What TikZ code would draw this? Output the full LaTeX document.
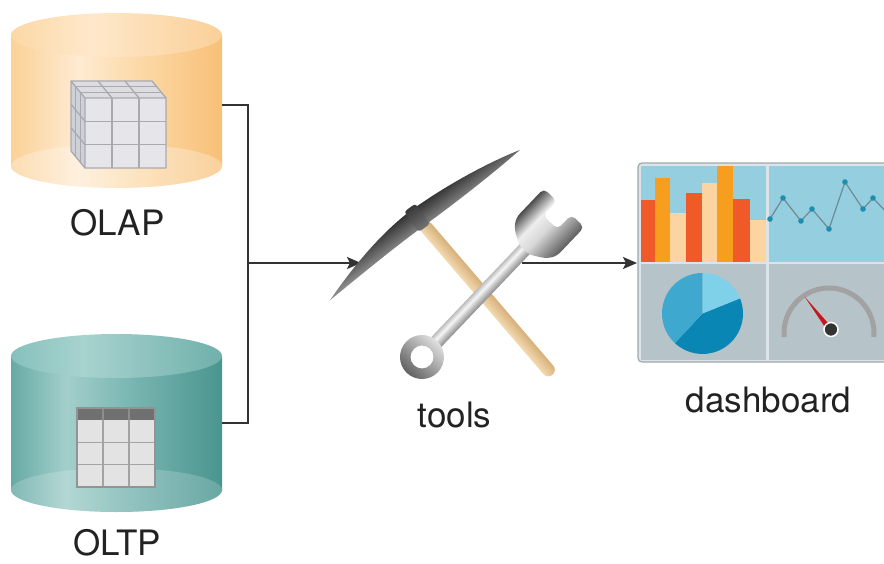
\documentclass[tikz,border=0pt]{standalone}
\usepackage{fontspec}
\setmainfont{TeX Gyre Heros}
\usetikzlibrary{arrows.meta}

% palette
\definecolor{olapL}{HTML}{FBD196}
\definecolor{olapH}{HTML}{FEEBD3}
\definecolor{olapM}{HTML}{FCDDB0}
\definecolor{olapR}{HTML}{F8C077}
\definecolor{olapTL}{HTML}{FCD8A6}
\definecolor{olapTH}{HTML}{FEE8CB}
\definecolor{olapTR}{HTML}{FAD098}
\definecolor{oltpL}{HTML}{67AAA5}
\definecolor{oltpH}{HTML}{A3CFCB}
\definecolor{oltpM}{HTML}{7DB8B4}
\definecolor{oltpR}{HTML}{4A958F}
\definecolor{oltpTL}{HTML}{86C0BC}
\definecolor{oltpTH}{HTML}{A8D3CF}
\definecolor{oltpTR}{HTML}{70B0AB}
\definecolor{cubeF}{HTML}{E6E6EA}
\definecolor{cubeT}{HTML}{DCDCE1}
\definecolor{cubeS}{HTML}{D0D0D7}
\definecolor{cubeLn}{HTML}{A9A9B1}
\definecolor{tblHead}{HTML}{707070}
\definecolor{tblCell}{HTML}{E3E3E3}
\definecolor{tblLn}{HTML}{A3A3A3}
\definecolor{wire}{HTML}{333333}
\definecolor{ink}{HTML}{222222}
\definecolor{stD}{HTML}{8A8A8A}
\definecolor{stM}{HTML}{C9C9C9}
\definecolor{stW}{HTML}{F6F6F6}
\definecolor{stL}{HTML}{BDBDBD}
\definecolor{hdD}{HTML}{4C4C4C}
\definecolor{hdM}{HTML}{D8D8D8}
\definecolor{hdW}{HTML}{EEEEEE}
\definecolor{hdL}{HTML}{5E5E5E}
\definecolor{woodD}{HTML}{D6AF79}
\definecolor{woodL}{HTML}{F3DAB1}
\definecolor{dashFrame}{HTML}{DDE4E7}
\definecolor{dashEdge}{HTML}{9DA9AD}
\definecolor{panelBlue}{HTML}{94CEDF}
\definecolor{panelGray}{HTML}{B6C3C8}
\definecolor{barRed}{HTML}{EF5A28}
\definecolor{barOrange}{HTML}{F79E1F}
\definecolor{barCream}{HTML}{FBD4A2}
\definecolor{lineGray}{HTML}{6E8A92}
\definecolor{dotBlue}{HTML}{1B8EB1}
\definecolor{pieLight}{HTML}{7FD1EA}
\definecolor{pieMid}{HTML}{3FA8CF}
\definecolor{pieDark}{HTML}{0A86B4}
\definecolor{gaugeArc}{HTML}{A2A2A2}
\definecolor{needle}{HTML}{C8161D}
\definecolor{pivot}{HTML}{333333}

% shadings across the cylinders and along the tool sections
\pgfdeclarehorizontalshading{olapbody}{100bp}{color(0bp)=(olapL); color(25bp)=(olapL); color(41bp)=(olapH); color(52bp)=(olapM); color(75bp)=(olapR); color(100bp)=(olapR)}
\pgfdeclarehorizontalshading{olaptop}{100bp}{color(0bp)=(olapTL); color(25bp)=(olapTL); color(44bp)=(olapTH); color(75bp)=(olapTR); color(100bp)=(olapTR)}
\pgfdeclarehorizontalshading{oltpbody}{100bp}{color(0bp)=(oltpL); color(25bp)=(oltpL); color(38bp)=(oltpH); color(52bp)=(oltpM); color(75bp)=(oltpR); color(100bp)=(oltpR)}
\pgfdeclarehorizontalshading{oltptop}{100bp}{color(0bp)=(oltpTL); color(25bp)=(oltpTL); color(42bp)=(oltpTH); color(75bp)=(oltpTR); color(100bp)=(oltpTR)}
\pgfdeclareverticalshading{steel}{100bp}{color(0bp)=(stD); color(25bp)=(stD); color(45bp)=(stM); color(58bp)=(stW); color(75bp)=(stL); color(100bp)=(stL)}
\pgfdeclareverticalshading{steelhead}{100bp}{color(0bp)=(hdL); color(25bp)=(hdL); color(48bp)=(hdM); color(60bp)=(hdW); color(75bp)=(hdD); color(100bp)=(hdD)}

\tikzset{
  lbl/.style={font=\fontsize{35}{42}\selectfont, text=ink, inner sep=0pt, anchor=base},
  conn/.style={draw=wire, line width=2.2pt},
  arrowconn/.style={conn, -{Stealth[length=14pt, width=12pt, inset=3pt]}},
  cubeline/.style={draw=cubeLn, line width=1.3pt, line join=round},
  tblline/.style={draw=tblLn, line width=1.5pt},
}

\begin{document}
\begin{tikzpicture}[x=1pt, y=-1pt]
\useasboundingbox (0,0) rectangle (884,563);

% ---------------- OLAP cylinder ----------------
\shade[shading=olapbody] (11,35) rectangle (222,166);
\shade[shading=olapbody] (116.5,166) ellipse [x radius=105.5, y radius=22];
\fill[white, opacity=0.28] (116.5,166) ellipse [x radius=105.5, y radius=22];
\shade[shading=olaptop] (116.5,35) ellipse [x radius=105.5, y radius=22];
% cube
\fill[cubeT] (85,98) -- (166,98) -- (152,81) -- (71,81) -- cycle;
\fill[cubeS] (85,98) -- (85,168) -- (71,151) -- (71,81) -- cycle;
\fill[cubeF] (85,98) rectangle (166,168);
\foreach \k in {1,2} {
  \draw[cubeline] (85+27*\k,98) -- (85+27*\k,168);
  \draw[cubeline] (85,98+23.33*\k) -- (166,98+23.33*\k);
  \draw[cubeline] (85+27*\k,98) -- (71+27*\k,81);
  \draw[cubeline] (85-4.67*\k,98-5.67*\k) -- (166-4.67*\k,98-5.67*\k);
  \draw[cubeline] (85-4.67*\k,98-5.67*\k) -- (85-4.67*\k,168-5.67*\k);
  \draw[cubeline] (85,98+23.33*\k) -- (71,81+23.33*\k);
}
\draw[cubeline] (71,81) -- (152,81) -- (166,98) -- (166,168) -- (85,168) -- (71,151) -- cycle;
\draw[cubeline] (71,81) -- (85,98) -- (166,98) (85,98) -- (85,168);
\node[lbl] (olap-label) at (117.5,235) {OLAP};

% ---------------- OLTP cylinder ----------------
\shade[shading=oltpbody] (11,356) rectangle (222,490);
\shade[shading=oltpbody] (116.5,490) ellipse [x radius=105.5, y radius=22];
\fill[white, opacity=0.18] (116.5,490) ellipse [x radius=105.5, y radius=22];
\shade[shading=oltptop] (116.5,356) ellipse [x radius=105.5, y radius=22];
% table
\fill[tblCell] (77,420) rectangle (155,487);
\fill[tblHead] (77,408) rectangle (155,420);
\draw[tblline] (103,420) -- (103,487) (129,420) -- (129,487)
               (77,442.3) -- (155,442.3) (77,464.7) -- (155,464.7);
\draw[draw=tblHead!80!white, line width=1.2pt] (103,408) -- (103,420) (129,408) -- (129,420);
\draw[draw=tblLn!90!black, line width=1.5pt] (77,408) rectangle (155,487);
\node[lbl] (oltp-label) at (117,555) {OLTP};

% ---------------- connectors into the tools ----------------
\coordinate (olap-e) at (222,105);
\coordinate (oltp-e) at (222,423);
\coordinate (bus-top) at (248,105);
\coordinate (bus-mid) at (248,263);
\coordinate (tools-w) at (361,263);
\coordinate (tools-e) at (522,263);
\coordinate (dash-w) at (637,263);
\draw[conn] (olap-e) -- (bus-top) |- (oltp-e);
\draw[arrowconn] (bus-mid) -- (tools-w);
\draw[arrowconn] (tools-e) -- (dash-w);

% ---------------- tools: pickaxe ----------------
% wooden handle
\begin{scope}[transform canvas={shift={(425,226)}, rotate=-49.4}]
  \shade[top color=woodD, bottom color=woodL, rounded corners=6.5pt]
    (-4,-6.5) rectangle (196,6.5);
\end{scope}
% curved iron head
\begin{scope}[transform canvas={shift={(418,219)}, rotate=36}]
  \shade[top color=black!80, middle color=black!66, bottom color=black!42]
    (-119,14) .. controls (-60,-7) and (-20,-11) .. (0,-11)
    .. controls (30,-11) and (80,-7) .. (123,4)
    .. controls (80,8) and (30,9) .. (0,9)
    .. controls (-30,9) and (-70,11) .. (-119,14) -- cycle;
  \shade[top color=black!78, bottom color=black!55, rounded corners=3pt]
    (-7,-14) rectangle (7,11);
\end{scope}

% ---------------- tools: wrench ----------------
\begin{scope}[transform canvas={shift={(422,357)}, rotate=46.4}]
  \shade[shading=steel] (14,-7) rectangle (160,7);
  \shade[shading=steelhead, rounded corners=5pt]
    (148,-7) -- (157,-22) -- (166,-28) -- (206,-28) -- (206,-10)
    -- (186,-10) -- (186,10) -- (206,10) -- (206,28) -- (166,28)
    -- (157,22) -- (148,7) -- cycle;
  \shade[left color=black!62, right color=black!12, even odd rule]
    (0,0) circle [radius=22] (0,0) circle [radius=11.5];
\end{scope}
\node[lbl] (tools-label) at (454.5,427) {tools};

% ---------------- dashboard ----------------
\begin{scope}
\clip (0,0) rectangle (884,563);
\fill[dashFrame, draw=dashEdge, line width=1.2pt, rounded corners=4pt] (638,163) rectangle (910,362);
\fill[panelBlue] (640.5,165.5) rectangle (766,261.5);
\fill[panelBlue] (768.5,165.5) rectangle (910,261.5);
\fill[panelGray] (640.5,264) rectangle (766,359.5);
\fill[panelGray] (768.5,264) rectangle (910,359.5);
% bar chart
\fill[barRed]    (640.5,200) rectangle (654.5,261.5);
\fill[barOrange] (654.5,178) rectangle (670,261.5);
\fill[barCream]  (670,213) rectangle (686,261.5);
\fill[barRed]    (686,193) rectangle (701.7,261.5);
\fill[barCream]  (701.7,183) rectangle (717,261.5);
\fill[barOrange] (717,166) rectangle (733,261.5);
\fill[barRed]    (733,199) rectangle (750,261.5);
\fill[barCream]  (750,220) rectangle (766,261.5);
% line chart
\draw[lineGray, line width=1.2pt, line join=round]
  (770,219) -- (783,198) -- (801,221) -- (812,209) -- (829,229) -- (845,182)
  -- (863,209) -- (873,198) -- (890,216);
\foreach \p in {(770,219),(783,198),(801,221),(812,209),(829,229),(845,182),(863,209),(873,198)}
  \fill[dotBlue] \p circle [radius=2.8];
% pie chart
\coordinate (pie-c) at (702.5,313.5);
\fill[pieDark]  (pie-c) -- ++(-22:40.5) arc [start angle=-22, end angle=133, radius=40.5] -- cycle;
\fill[pieMid]   (pie-c) -- ++(-90:40.5) arc [start angle=-90, end angle=-227, radius=40.5] -- cycle;
\fill[pieLight] (pie-c) -- ++(-22:40.5) arc [start angle=-22, end angle=-90, radius=40.5] -- cycle;
% gauge
\coordinate (gauge-c) at (829,333);
\draw[gaugeArc, line width=5pt] (gauge-c) ++(-185:45) arc [start angle=-185, end angle=5, radius=45];
\fill[needle] (831.5,327) -- (804.5,296.5) -- (827.5,331) -- cycle;
\fill[pivot, draw=white, line width=1.5pt] (831,329.5) circle [radius=7];
\end{scope}
\node[lbl] (dashboard-label) at (768.5,412.5) {dashboard};

\end{tikzpicture}
\end{document}
